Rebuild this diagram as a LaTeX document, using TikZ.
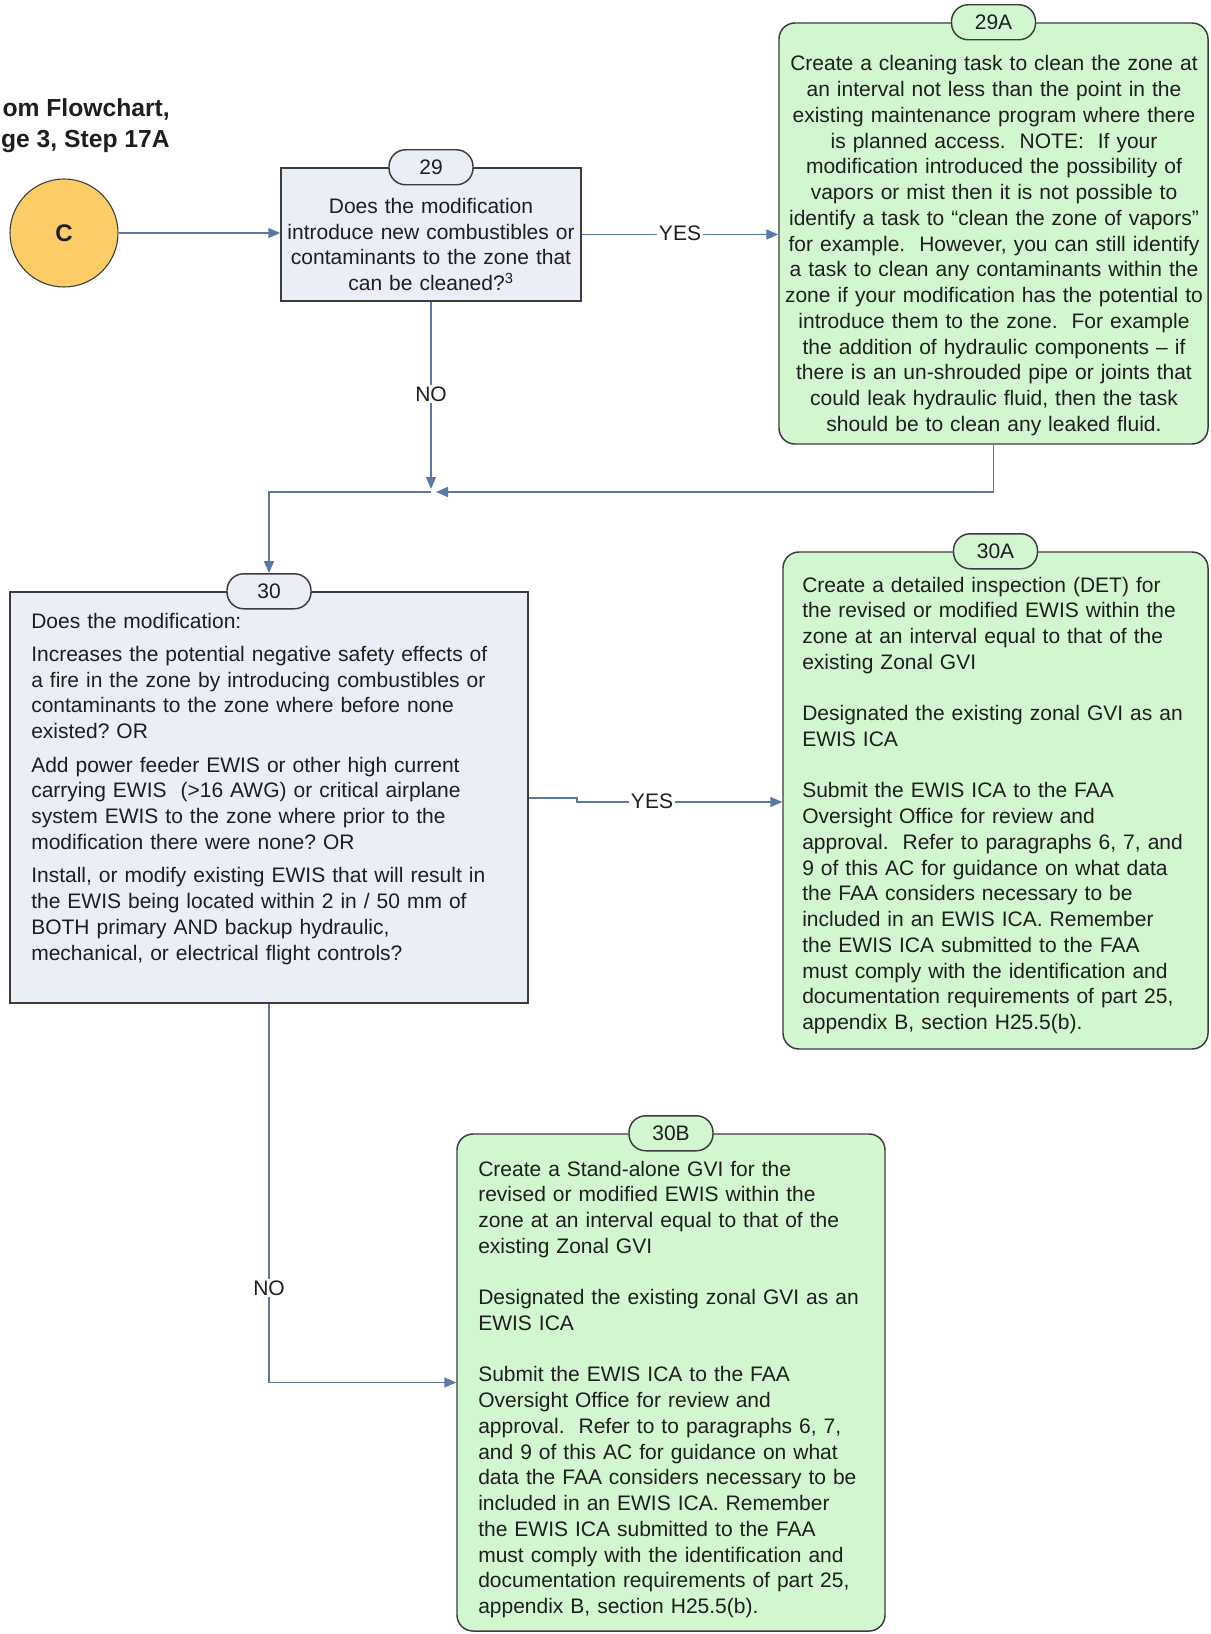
\documentclass[tikz,border=0pt]{standalone}
\usepackage{fontspec}
\setmainfont{Liberation Sans}
\usetikzlibrary{arrows.meta}
\definecolor{qfill}{RGB}{233,238,247}
\definecolor{gfill}{RGB}{210,247,208}
\definecolor{cfill}{RGB}{252,204,102}
\definecolor{edgec}{RGB}{60,60,60}
\definecolor{linkc}{RGB}{88,120,168}
\definecolor{ink}{RGB}{30,30,30}
\begin{document}
\frenchspacing
\begin{tikzpicture}[x=0.75pt,y=-0.75pt,
  every node/.style={font=\fontsize{15.75}{19.3}\selectfont\frenchspacing, text=ink},
  qbox/.style={draw=edgec, line width=1.1pt, fill=qfill, inner sep=0pt},
  abox/.style={draw=edgec, line width=1.1pt, fill=gfill, rounded corners=12pt, inner sep=0pt},
  tagq/.style={draw=edgec, line width=1.1pt, fill=qfill, rounded corners=12.5pt,
    minimum width=63pt, minimum height=26.25pt, inner sep=0pt},
  taga/.style={tagq, fill=gfill},
  ctext/.style={anchor=base, align=center, inner sep=0pt},
  ltext/.style={anchor=base west, align=left, inner sep=0pt},
  conn/.style={draw=linkc, line width=1.1pt},
  arr/.style={conn, -{Triangle[length=9pt,width=7.5pt]}},
  lbl/.style={fill=white, inner sep=1.5pt},
  ttl/.style={anchor=base east, inner sep=0pt, font=\fontsize{18.5}{23}\selectfont\bfseries}
]
\useasboundingbox[fill=white] (0,0) rectangle (1210,1634);

% title
\node[ttl] (ttl1) at (170,117) {om Flowchart,};
\node[ttl] (ttl2) at (170,148) {ge 3, Step 17A};

% connector circle
\node[circle, draw=edgec, line width=0.8pt, fill=cfill, minimum size=81pt, inner sep=0pt,
  font=\fontsize{18}{21}\selectfont\bfseries] (qC) at (64,233) {C};

% boxes
\node[qbox, minimum width=225pt, minimum height=99.75pt] (q29) at (431,234.5) {};
\node[tagq] (tag29) at (q29.north) {29};
\node[ctext, text width=260pt] (t29) at (431,213.5)
  {Does the modification\\introduce new combustibles or\\contaminants to the zone that\\can be cleaned?\textsuperscript{3}};

\node[abox, minimum width=321.75pt, minimum height=315.75pt] (q29A) at (993.5,233.5) {};
\node[taga] (tag29A) at (q29A.north) {29A};
\node[ctext, text width=350pt] (t29A) at (994,71)
  {Create a cleaning task to clean the zone at\\
   an interval not less than the point in the\\
   existing maintenance program where there\\
   is planned access.\ \ NOTE:\ \ If your\\
   modification introduced the possibility of\\
   vapors or mist then it is not possible to\\
   identify a task to “clean the zone of vapors”\\
   for example.\ \ However, you can still identify\\
   a task to clean any contaminants within the\\
   zone if your modification has the potential to\\
   introduce them to the zone.\ \ For example\\
   the addition of hydraulic components – if\\
   there is an un-shrouded pipe or joints that\\
   could leak hydraulic fluid, then the task\\
   should be to clean any leaked fluid.};

\node[qbox, minimum width=388.5pt, minimum height=308.25pt] (q30) at (269,797.5) {};
\node[tagq] (tag30) at (q30.north) {30};
\node[ltext, text width=400pt] (t30) at (31,628)
  {Does the modification:\\[5.8pt]
   Increases the potential negative safety effects of\\
   a fire in the zone by introducing combustibles or\\
   contaminants to the zone where before none\\
   existed? OR\\[5.8pt]
   Add power feeder EWIS or other high current\\
   carrying EWIS\ \ (>16 AWG) or critical airplane\\
   system EWIS to the zone where prior to the\\
   modification there were none? OR\\[5.8pt]
   Install, or modify existing EWIS that will result in\\
   the EWIS being located within 2 in / 50 mm of\\
   BOTH primary AND backup hydraulic,\\
   mechanical, or electrical flight controls?};

\node[abox, minimum width=318.75pt, minimum height=372.75pt] (q30A) at (995.5,800.5) {};
\node[taga] (tag30A) at (q30A.north) {30A};
\node[ltext, text width=330pt] (t30A) at (802,592)
  {Create a detailed inspection (DET) for\\
   the revised or modified EWIS within the\\
   zone at an interval equal to that of the\\
   existing Zonal GVI\\[19.3pt]
   Designated the existing zonal GVI as an\\
   EWIS ICA\\[19.3pt]
   Submit the EWIS ICA to the FAA\\
   Oversight Office for review and\\
   approval.\ \ Refer to paragraphs 6, 7, and\\
   9 of this AC for guidance on what data\\
   the FAA considers necessary to be\\
   included in an EWIS ICA. Remember\\
   the EWIS ICA submitted to the FAA\\
   must comply with the identification and\\
   documentation requirements of part 25,\\
   appendix B, section H25.5(b).};

\node[abox, minimum width=321pt, minimum height=372.75pt] (q30B) at (671,1382.5) {};
\node[taga] (tag30B) at (q30B.north) {30B};
\node[ltext, text width=330pt] (t30B) at (478,1176)
  {Create a Stand-alone GVI for the\\
   revised or modified EWIS within the\\
   zone at an interval equal to that of the\\
   existing Zonal GVI\\[19.3pt]
   Designated the existing zonal GVI as an\\
   EWIS ICA\\[19.3pt]
   Submit the EWIS ICA to the FAA\\
   Oversight Office for review and\\
   approval.\ \ Refer to to paragraphs 6, 7,\\
   and 9 of this AC for guidance on what\\
   data the FAA considers necessary to be\\
   included in an EWIS ICA. Remember\\
   the EWIS ICA submitted to the FAA\\
   must comply with the identification and\\
   documentation requirements of part 25,\\
   appendix B, section H25.5(b).};

% connector points
\coordinate (J) at (431,492);
\coordinate (Jn) at (431,489);
\coordinate (Je) at (436,492);
\coordinate (k1) at (577,798);
\coordinate (k2) at (577,802);

% connectors
\draw[arr] (qC.east) -- (qC.east -| q29.west);
\draw[arr] (q29.east) -- (q29.east -| q29A.west);
\draw[arr] (q29.south) -- (Jn);
\draw[arr] (q29A.south) |- (Je);
\draw[arr] (J) -| (tag30.north);
\draw[arr] (k1 -| q30.east) -- (k1) -- (k2) -- (k2 -| q30A.west);
\draw[arr] (q30.south) |- (q30B.west);

% labels
\node[lbl] (yes1) at (680,233) {YES};
\node[lbl] (no1) at (431,394) {NO};
\node[lbl] (yes2) at (652,801) {YES};
\node[lbl] (no2) at (269,1288) {NO};
\end{tikzpicture}
\end{document}
